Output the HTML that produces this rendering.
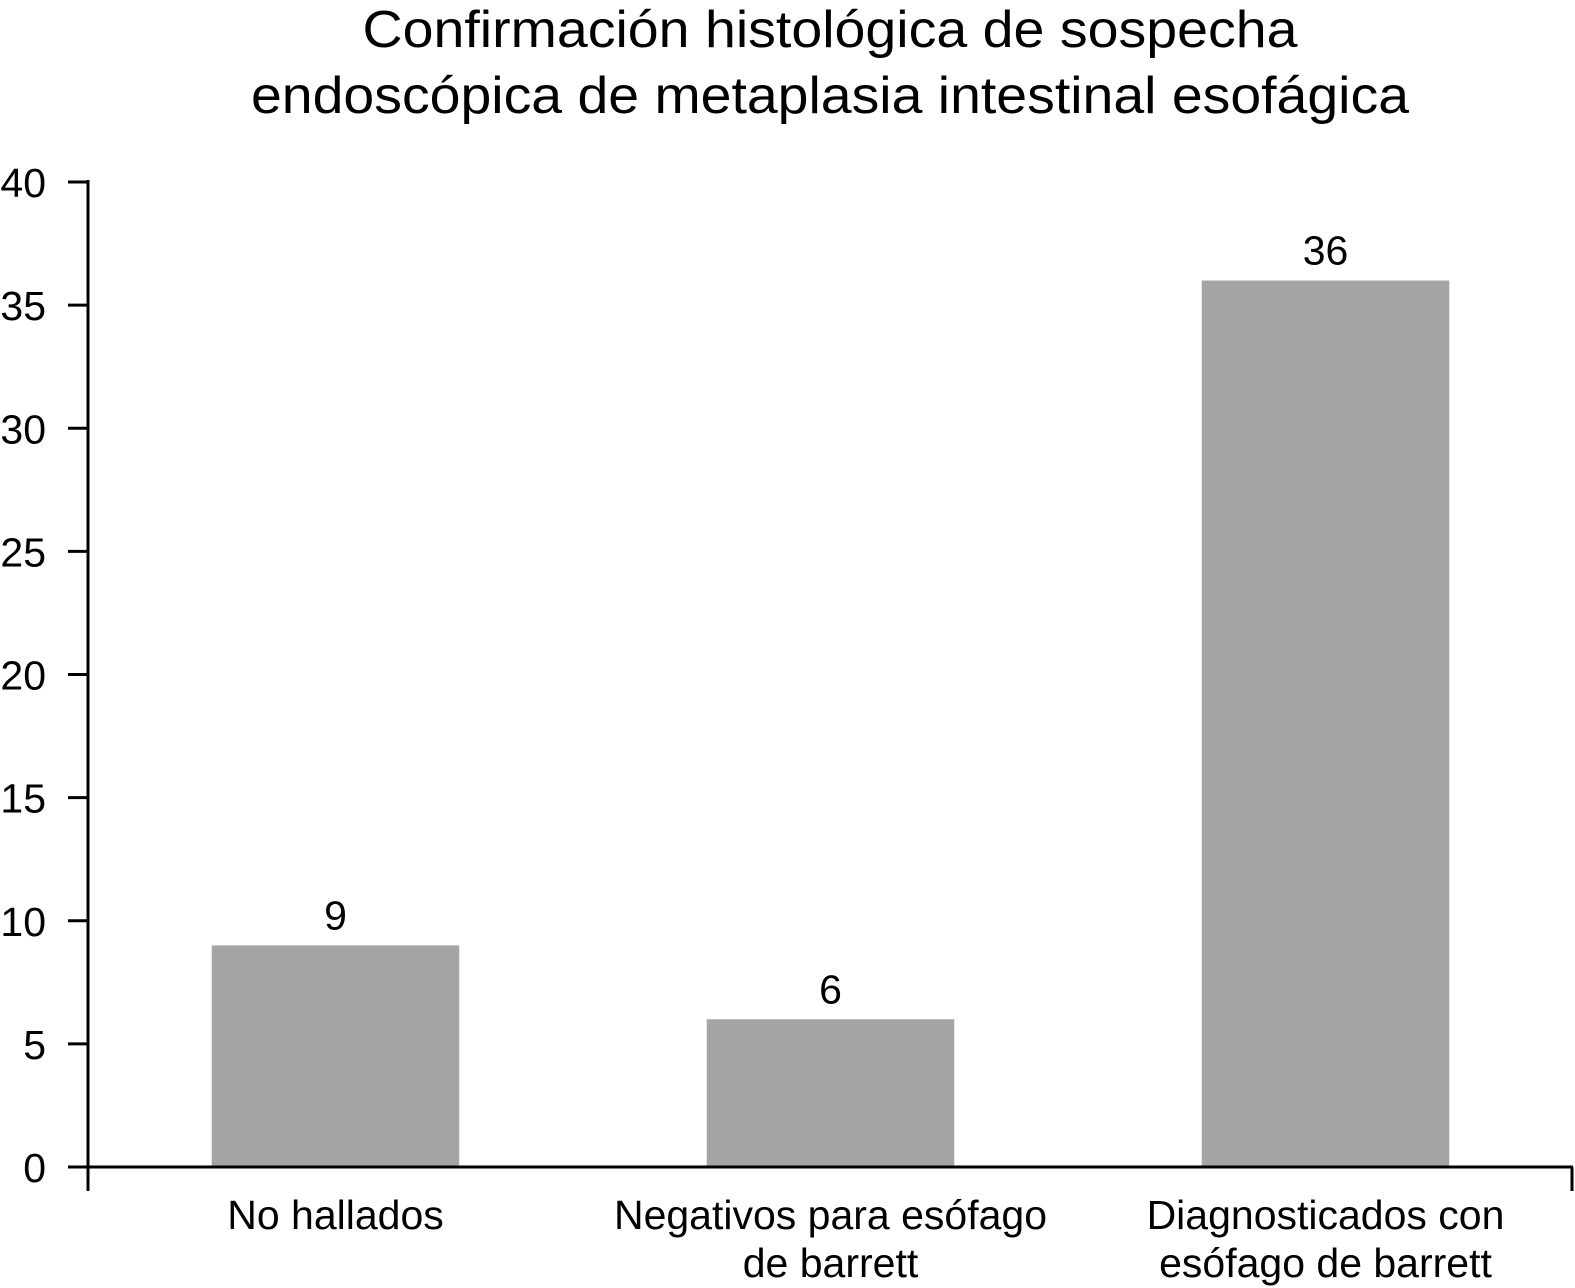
<!DOCTYPE html>
<html><head><meta charset="utf-8"><style>
html,body{margin:0;padding:0;background:#fff;}
svg{display:block;font-family:"Liberation Sans",Arial,sans-serif;}
</style></head><body>
<svg id="chart" width="1575" height="1288" viewBox="0 0 1575 1288">
<text x="830" y="47" font-size="52" text-anchor="middle" textLength="935" lengthAdjust="spacingAndGlyphs">Confirmación histológica de sospecha</text>
<text x="830" y="113" font-size="52" text-anchor="middle" textLength="1158" lengthAdjust="spacingAndGlyphs">endoscópica de metaplasia intestinal esofágica</text>
<g id="plot"></g>
</svg>
<script>
const categories = [["No hallados"], ["Negativos para esófago", "de barrett"], ["Diagnosticados con", "esófago de barrett"]];
const values = [9, 6, 36];
const yTicks = [0, 5, 10, 15, 20, 25, 30, 35, 40];

const X0 = 88, X1 = 1573, Y0 = 1167, Y1 = 182, YMAX = 40;
const ns = "http://www.w3.org/2000/svg";
const g = document.getElementById('plot');
function y(v){ return Y0 - (v / YMAX) * (Y0 - Y1); }
const band = (X1 - X0) / categories.length;
function xc(i){ return X0 + band * (i + 0.5); }
function mk(tag, attrs){ const e = document.createElementNS(ns, tag); for (const k in attrs) e.setAttribute(k, attrs[k]); g.appendChild(e); return e; }

values.forEach((v, i) => {
  const w = band * 0.5;
  const r = mk('rect', {x: xc(i) - w/2, y: y(v), width: w, height: Y0 - y(v), fill: '#a5a5a5'});
  
  
  const t = mk('text', {x: xc(i), y: y(v) - 16, 'font-size': 41, 'text-anchor': 'middle'});
  t.textContent = v;
  
  
  categories[i].forEach((line, j) => {
    const c = mk('text', {x: xc(i), y: 1229 + j * 48, 'font-size': 41, 'text-anchor': 'middle'});
    c.textContent = line;
    
    
  });
});

yTicks.forEach(v => {
  const l = mk('line', {x1: X0 - 20, x2: X0, y1: y(v), y2: y(v), stroke: '#000', 'stroke-width': 3});
  
  
  const t = mk('text', {x: X0 - 42, y: y(v) + 15, 'font-size': 41, 'text-anchor': 'end'});
  t.textContent = v;
  
  
});

const ya = mk('line', {x1: X0, x2: X0, y1: Y1 - 2, y2: Y0 + 24, stroke: '#000', 'stroke-width': 3});


const xa = mk('line', {x1: X0 - 20, x2: X1, y1: Y0, y2: Y0, stroke: '#000', 'stroke-width': 3});


const xe = mk('line', {x1: X1 - 1, x2: X1 - 1, y1: Y0, y2: Y0 + 24, stroke: '#000', 'stroke-width': 3});


</script>
</body></html>
